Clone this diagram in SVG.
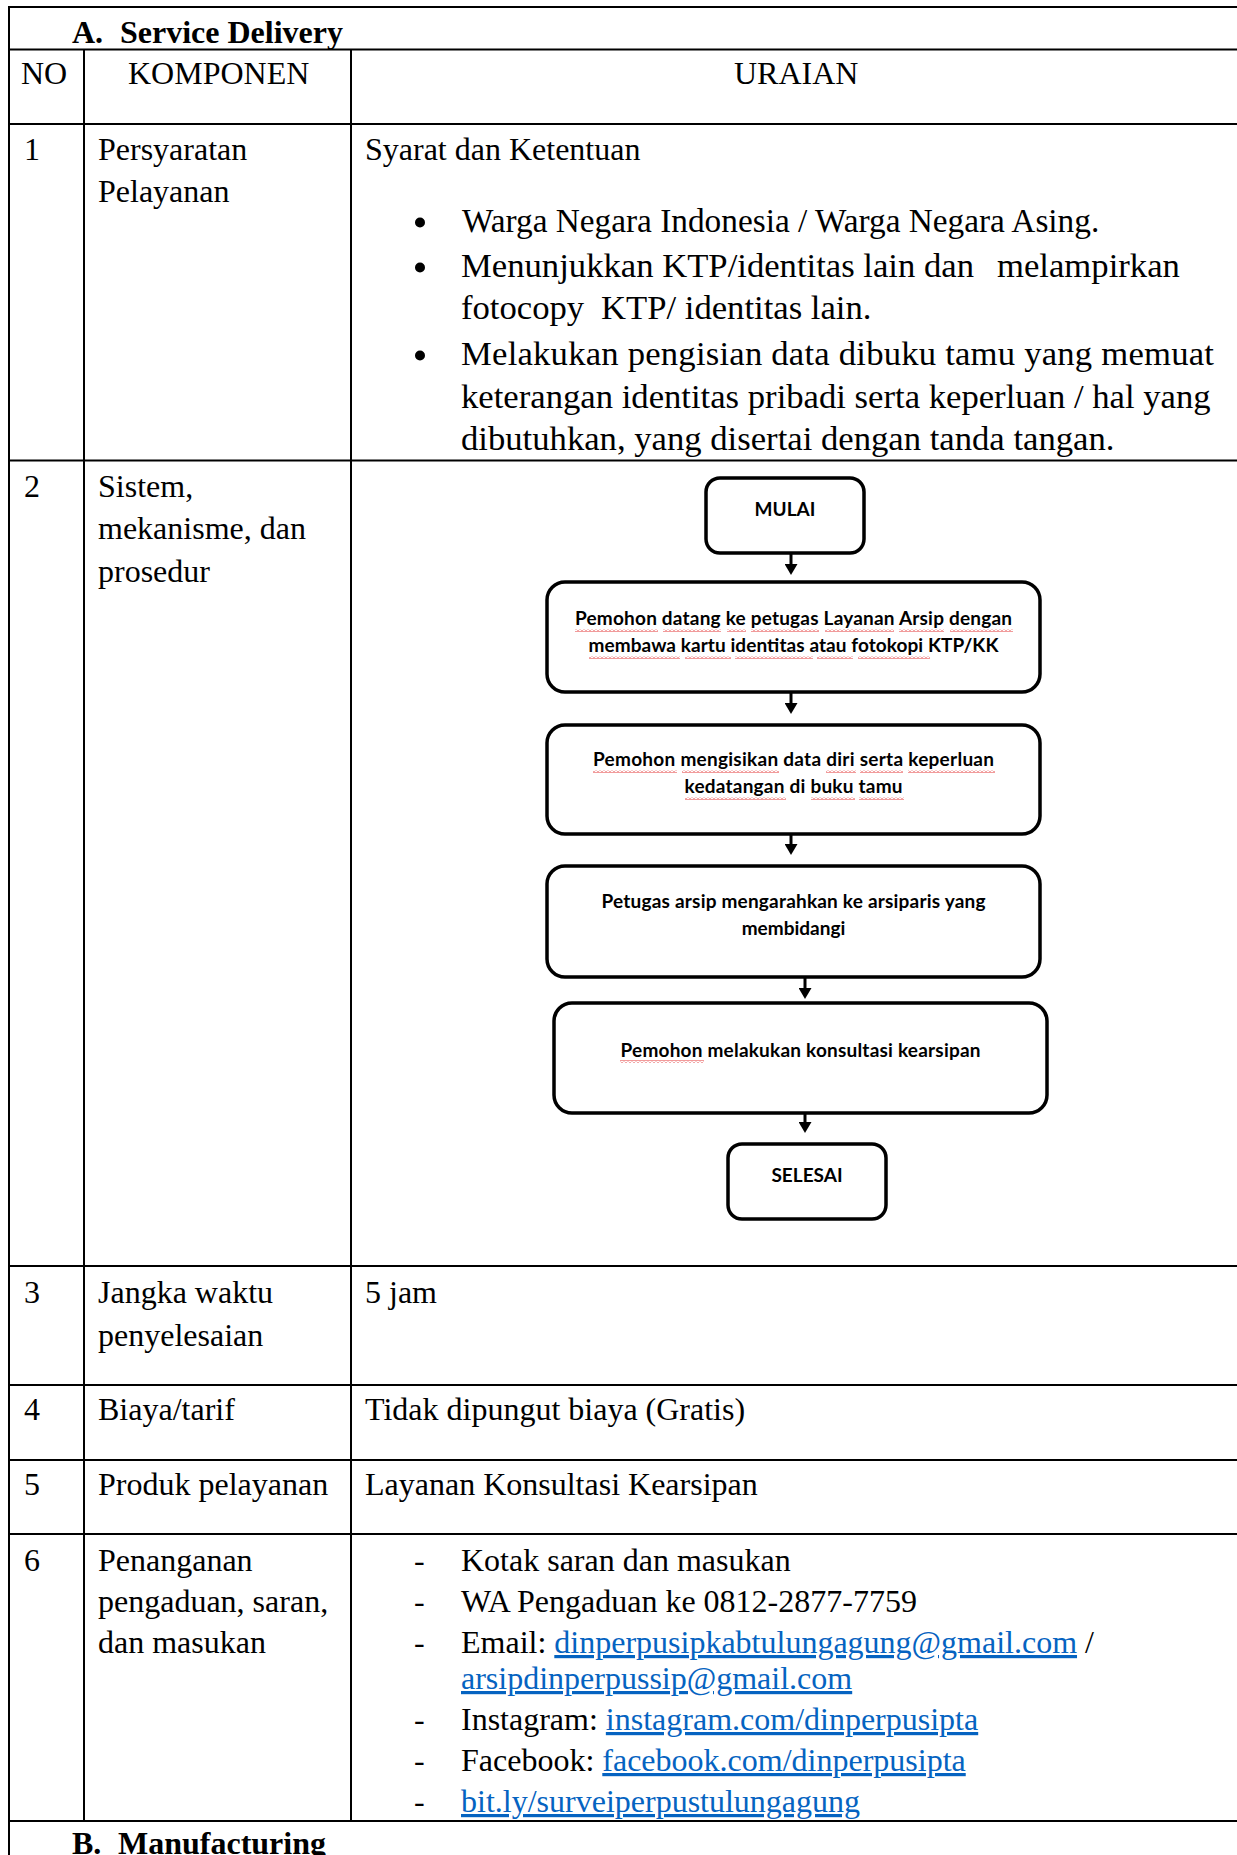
<svg xmlns="http://www.w3.org/2000/svg" width="1237" height="1855" viewBox="0 0 1237 1855">
  <style>
    .t { font-family: "Liberation Serif", "Times New Roman", serif; font-size: 32px; fill: #000; }
    .b { font-weight: bold; }
    .bl { font-size: 34.67px; }
    .lnk { fill: #0563C1; text-decoration: underline; }
    .grid { stroke: #000; stroke-width: 2; fill: none; }
    .box { fill: #fff; stroke: #000; stroke-width: 3.5; }
    .fc { font-family: Lato, "Noto Sans", sans-serif; font-weight: bold; font-size: 19px; fill: #000; text-anchor: middle; }
    .conn { stroke: #000; stroke-width: 3; fill: none; }
    .sq { fill: url(#squiggle); }
  </style>
  <defs>
    <marker id="arrowhead" markerUnits="userSpaceOnUse" markerWidth="11" markerHeight="13" refX="0" refY="6.5" orient="auto" viewBox="0 0 11 13">
      <path d="M0,0 L11,6.5 L0,13 Z" fill="#000"/>
    </marker>
    <!-- spell-check style wavy underline -->
    <pattern id="squiggle" patternUnits="userSpaceOnUse" width="4" height="3">
      <path d="M0,2.5 L2,0.5 L4,2.5" stroke="#e02020" stroke-width="0.9" fill="none"/>
    </pattern>
  </defs>

  <rect width="1237" height="1855" fill="#fff"/>

  <!-- table grid -->
  <g id="table-grid" class="grid">
    <path d="M8,7 H1237"/>
    <path d="M9,6 V1855"/>
    <path d="M9,49.5 H1237"/>
    <path d="M9,124 H1237"/>
    <path d="M9,460.5 H1237"/>
    <path d="M9,1266 H1237"/>
    <path d="M9,1385 H1237"/>
    <path d="M9,1460 H1237"/>
    <path d="M9,1534 H1237"/>
    <path d="M9,1821 H1237"/>
    <path d="M84,49.5 V1821"/>
    <path d="M351,49.5 V1821"/>
  </g>

  <g id="section-a">
    <text class="t b" x="72" y="43">A.</text>
    <text class="t b" x="120" y="43">Service Delivery</text>
  </g>

  <g id="header-row">
    <text class="t" x="21" y="84">NO</text>
    <text class="t" x="128" y="84">KOMPONEN</text>
    <text class="t" x="734" y="84">URAIAN</text>
  </g>

  <g id="row-1">
    <text class="t" x="24" y="159.5">1</text>
    <text class="t" x="98" y="159.5">Persyaratan</text>
    <text class="t" x="98" y="202">Pelayanan</text>
    <text class="t" x="365" y="159.5">Syarat dan Ketentuan</text>
    <circle cx="420" cy="222.5" r="5"/>
    <circle cx="420" cy="267.5" r="5"/>
    <circle cx="420" cy="355.5" r="5"/>
    <text class="t" style="font-size:33.3px" x="462" y="231.5">Warga Negara Indonesia / Warga Negara Asing.</text>
    <text class="t bl" x="461" y="276.5">Menunjukkan KTP/identitas lain dan<tspan x="997">melampirkan</tspan></text>
    <text class="t bl" x="461" y="318.5">fotocopy<tspan x="601">KTP/ identitas lain.</tspan></text>
    <text class="t bl" x="461" y="364.5" textLength="753" lengthAdjust="spacing">Melakukan pengisian data dibuku tamu yang memuat</text>
    <text class="t bl" x="461" y="407.5">keterangan identitas pribadi serta keperluan / hal yang</text>
    <text class="t bl" x="461" y="449.5">dibutuhkan, yang disertai dengan tanda tangan.</text>
  </g>

  <g id="row-2">
    <text class="t" x="24" y="497">2</text>
    <text class="t" x="98" y="497">Sistem,</text>
    <text class="t" x="98" y="539">mekanisme, dan</text>
    <text class="t" x="98" y="582">prosedur</text>
  </g>

  <!-- flowchart: procedure steps -->
  <g id="flow-connectors">
    <path class="conn" d="M791,553 V564" marker-end="url(#arrowhead)"/>
    <path class="conn" d="M791,692 V703" marker-end="url(#arrowhead)"/>
    <path class="conn" d="M791,834 V844" marker-end="url(#arrowhead)"/>
    <path class="conn" d="M805,977 V988" marker-end="url(#arrowhead)"/>
    <path class="conn" d="M805,1113 V1122" marker-end="url(#arrowhead)"/>
  </g>

  <g id="node-mulai">
    <rect class="box" x="706" y="478" width="158" height="75" rx="14"/>
    <text class="fc" x="785" y="516">MULAI</text>
  </g>

  <g id="node-datang">
    <rect class="box" x="547" y="582" width="493" height="110" rx="18"/>
    <rect class="sq" x="575" y="629" width="83" height="3"/>
    <rect class="sq" x="663" y="629" width="58" height="3"/>
    <rect class="sq" x="727" y="629" width="19" height="3"/>
    <rect class="sq" x="751" y="629" width="68" height="3"/>
    <rect class="sq" x="825" y="629" width="69" height="3"/>
    <rect class="sq" x="899" y="629" width="45" height="3"/>
    <rect class="sq" x="950" y="629" width="63" height="3"/>
    <rect class="sq" x="589" y="656" width="91" height="3"/>
    <rect class="sq" x="685" y="656" width="46" height="3"/>
    <rect class="sq" x="735" y="656" width="78" height="3"/>
    <rect class="sq" x="817" y="656" width="36" height="3"/>
    <rect class="sq" x="858" y="656" width="72" height="3"/>
    <text class="fc" x="793.5" y="625" textLength="437" lengthAdjust="spacing">Pemohon datang ke petugas Layanan Arsip dengan</text>
    <text class="fc" x="793.5" y="652" textLength="410" lengthAdjust="spacing">membawa kartu identitas atau fotokopi KTP/KK</text>
  </g>

  <g id="node-mengisi">
    <rect class="box" x="547" y="725" width="493" height="109" rx="18"/>
    <rect class="sq" x="593" y="770" width="84" height="3"/>
    <rect class="sq" x="682" y="770" width="97" height="3"/>
    <rect class="sq" x="826" y="770" width="30" height="3"/>
    <rect class="sq" x="860" y="770" width="43" height="3"/>
    <rect class="sq" x="908" y="770" width="87" height="3"/>
    <rect class="sq" x="685" y="797" width="101" height="3"/>
    <rect class="sq" x="811" y="797" width="44" height="3"/>
    <rect class="sq" x="859" y="797" width="45" height="3"/>
    <text class="fc" x="793.5" y="766" textLength="401" lengthAdjust="spacing">Pemohon mengisikan data diri serta keperluan</text>
    <text class="fc" x="793.5" y="793" textLength="218" lengthAdjust="spacing">kedatangan di buku tamu</text>
  </g>

  <g id="node-arahkan">
    <rect class="box" x="547" y="866" width="493" height="111" rx="18"/>
    <text class="fc" x="793.5" y="908" textLength="384" lengthAdjust="spacing">Petugas arsip mengarahkan ke arsiparis yang</text>
    <text class="fc" x="793.5" y="935">membidangi</text>
  </g>

  <g id="node-konsultasi">
    <rect class="box" x="554" y="1003" width="493" height="110" rx="18"/>
    <rect class="sq" x="620" y="1060" width="84" height="3"/>
    <text class="fc" x="800.5" y="1057" textLength="360" lengthAdjust="spacing">Pemohon melakukan konsultasi kearsipan</text>
  </g>

  <g id="node-selesai">
    <rect class="box" x="728" y="1144" width="158" height="75" rx="14"/>
    <text class="fc" x="807" y="1182">SELESAI</text>
  </g>

  <g id="row-3">
    <text class="t" x="24" y="1303">3</text>
    <text class="t" x="98" y="1303">Jangka waktu</text>
    <text class="t" x="98" y="1346">penyelesaian</text>
    <text class="t" x="365" y="1303">5 jam</text>
  </g>

  <g id="row-4">
    <text class="t" x="24" y="1420">4</text>
    <text class="t" x="98" y="1420">Biaya/tarif</text>
    <text class="t" x="365" y="1420">Tidak dipungut biaya (Gratis)</text>
  </g>

  <g id="row-5">
    <text class="t" x="24" y="1495">5</text>
    <text class="t" x="98" y="1495">Produk pelayanan</text>
    <text class="t" x="365" y="1495">Layanan Konsultasi Kearsipan</text>
  </g>

  <g id="row-6">
    <text class="t" x="24" y="1571">6</text>
    <text class="t" x="98" y="1571">Penanganan</text>
    <text class="t" x="98" y="1612">pengaduan, saran,</text>
    <text class="t" x="98" y="1653">dan masukan</text>
    <text class="t" x="414" y="1571">-</text>
    <text class="t" x="414" y="1612">-</text>
    <text class="t" x="414" y="1653">-</text>
    <text class="t" x="414" y="1730">-</text>
    <text class="t" x="414" y="1771">-</text>
    <text class="t" x="414" y="1812">-</text>
    <text class="t" x="461" y="1571">Kotak saran dan masukan</text>
    <text class="t" x="461" y="1612">WA Pengaduan ke 0812-2877-7759</text>
    <text class="t" x="461" y="1653">Email: <tspan class="lnk">dinperpusipkabtulungagung@gmail.com</tspan> /</text>
    <text class="t lnk" x="461" y="1689">arsipdinperpussip@gmail.com</text>
    <text class="t" x="461" y="1730">Instagram: <tspan class="lnk">instagram.com/dinperpusipta</tspan></text>
    <text class="t" x="461" y="1771">Facebook: <tspan class="lnk">facebook.com/dinperpusipta</tspan></text>
    <text class="t lnk" x="461" y="1812">bit.ly/surveiperpustulungagung</text>
  </g>

  <g id="section-b">
    <text class="t b" x="72" y="1854">B.</text>
    <text class="t b" x="118" y="1854">Manufacturing</text>
  </g>
</svg>
